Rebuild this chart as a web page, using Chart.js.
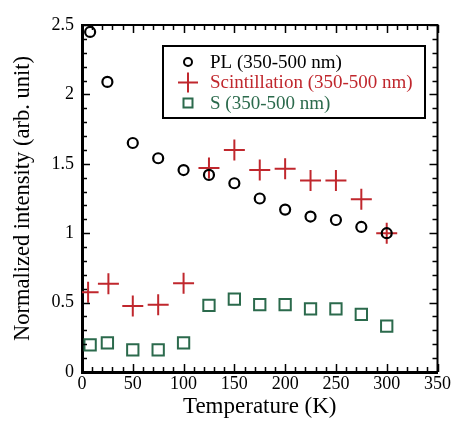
<!DOCTYPE html>
<html>
<head>
<meta charset="utf-8">
<script src="https://cdn.jsdelivr.net/npm/chart.js@4/dist/chart.umd.min.js"></script>
<style>
  html, body { margin: 0; padding: 0; background: #fff; }
  #wrap { width: 452px; height: 421px; }
</style>
</head>
<body>
<div id="wrap"><canvas id="chart" width="452" height="421"></canvas></div>
<script>
// temperatures (K)
const tempsPL = [8, 25, 50, 75, 100, 125, 150, 175, 200, 225, 250, 275, 300];
const tempsScint = [6, 26, 50, 75, 100, 125, 150, 175, 200, 225, 250, 275, 300];
const tempsS = [8, 25, 50, 75, 100, 125, 150, 175, 200, 225, 250, 275, 300];

const plValues = [2.45, 2.09, 1.65, 1.54, 1.455, 1.42, 1.36, 1.25, 1.17, 1.12, 1.095, 1.045, 1.0];
const scintValues = [0.575, 0.635, 0.475, 0.485, 0.64, 1.47, 1.60, 1.455, 1.465, 1.38, 1.38, 1.245, 1.0];
const sValues = [0.195, 0.21, 0.16, 0.16, 0.21, 0.48, 0.525, 0.485, 0.485, 0.455, 0.455, 0.415, 0.33];

const seriesLabels = ['PL (350-500 nm)', 'Scintillation (350-500 nm)', 'S (350-500 nm)'];
const xTitle = 'Temperature (K)';
const yTitle = 'Normalized intensity (arb. unit)';

const RED = '#c0272d';
const GREEN = '#2b6a4c';
const FONT = '"Liberation Serif", "Times New Roman", serif';

const toPoints = (xs, ys) => xs.map((x, i) => ({ x: x, y: ys[i] }));

// inward ticks on all four sides + top/right frame
const frameTicks = {
    id: 'frameTicks',
    afterDatasetsDraw(chart) {
        const { ctx, chartArea: a, scales } = chart;
        const xs = scales.x, ys = scales.y;
        ctx.save();
        ctx.strokeStyle = '#000';
        ctx.lineWidth = 2;
        ctx.beginPath();
        ctx.moveTo(a.left, a.top);
        ctx.lineTo(a.right, a.top);
        ctx.lineTo(a.right, a.bottom);
        ctx.stroke();

        ctx.lineWidth = 1.5;
        ctx.beginPath();
        for (let v = 0; v <= 350; v += 10) {
            const px = Math.round(xs.getPixelForValue(v)) + 0.5;
            const len = v % 50 === 0 ? 8 : 5;
            ctx.moveTo(px, a.bottom);
            ctx.lineTo(px, a.bottom - len);
            ctx.moveTo(px, a.top);
            ctx.lineTo(px, a.top + len);
        }
        for (let i = 0; i <= 25; i++) {
            const v = i / 10;
            const py = Math.round(ys.getPixelForValue(v)) + 0.5;
            const len = i % 5 === 0 ? 8 : 5;
            ctx.moveTo(a.left, py);
            ctx.lineTo(a.left + len, py);
            ctx.moveTo(a.right, py);
            ctx.lineTo(a.right - len, py);
        }
        ctx.stroke();
        ctx.restore();
    }
};

// boxed legend inside the plot
const boxLegend = {
    id: 'boxLegend',
    afterDraw(chart) {
        const { ctx, chartArea: a } = chart;
        const left = a.left + 81, top = a.top + 21, w = 262, h = 72;
        ctx.save();
        ctx.fillStyle = '#fff';
        ctx.fillRect(left, top, w, h);
        ctx.strokeStyle = '#000';
        ctx.lineWidth = 2;
        ctx.strokeRect(left, top, w, h);

        ctx.font = '19px ' + FONT;
        ctx.textBaseline = 'middle';
        chart.data.datasets.forEach((ds, i) => {
            const cy = top + 16 + i * 20.5;
            const cx = left + 25;
            ctx.strokeStyle = ds.borderColor;
            ctx.lineWidth = 2;
            ctx.beginPath();
            if (ds.pointStyle === 'circle') {
                ctx.arc(cx, cy, 4, 0, Math.PI * 2);
            } else if (ds.pointStyle === 'cross') {
                ctx.moveTo(cx - 10, cy); ctx.lineTo(cx + 10, cy);
                ctx.moveTo(cx, cy - 10); ctx.lineTo(cx, cy + 10);
            } else {
                ctx.rect(cx - 4.5, cy - 4.5, 9, 9);
            }
            ctx.stroke();
            ctx.fillStyle = ds.borderColor;
            ctx.fillText(ds.label, left + 47, cy + 1);
        });
        ctx.restore();
    }
};

new Chart(document.getElementById('chart'), {
    type: 'scatter',
    data: {
        datasets: [
            {
                label: seriesLabels[0],
                data: toPoints(tempsPL, plValues),
                pointStyle: 'circle',
                pointRadius: 5,
                pointBorderWidth: 2.2,
                borderColor: '#000',
                backgroundColor: 'rgba(0,0,0,0)'
            },
            {
                label: seriesLabels[1],
                data: toPoints(tempsScint, scintValues),
                pointStyle: 'cross',
                pointRadius: 10.5,
                pointBorderWidth: 2,
                borderColor: RED,
                backgroundColor: RED
            },
            {
                label: seriesLabels[2],
                data: toPoints(tempsS, sValues),
                pointStyle: 'rect',
                pointRadius: 8,
                pointBorderWidth: 2,
                borderColor: GREEN,
                backgroundColor: 'rgba(0,0,0,0)'
            }
        ]
    },
    options: {
        responsive: false,
        animation: false,
        layout: { padding: { top: 25, right: 14, left: 0, bottom: 0 } },
        plugins: {
            legend: { display: false },
            tooltip: { enabled: false }
        },
        scales: {
            x: {
                type: 'linear',
                min: 0,
                max: 350,
                afterFit: (s) => { s.height = 49; },
                ticks: { stepSize: 50, color: '#000', font: { family: FONT, size: 18 }, padding: 1, maxRotation: 0 },
                grid: { display: false, drawTicks: false },
                border: { color: '#000', width: 3 },
                title: { display: true, text: xTitle, color: '#000', font: { family: FONT, size: 23 }, padding: { top: 4, bottom: 0 } }
            },
            y: {
                type: 'linear',
                min: 0,
                max: 2.5,
                afterFit: (s) => { s.width = 82; },
                ticks: {
                    stepSize: 0.5, color: '#000', font: { family: FONT, size: 18 }, padding: 8,
                    callback: (v) => String(Number(v))
                },
                grid: { display: false, drawTicks: false },
                border: { color: '#000', width: 3 },
                title: { display: true, text: yTitle, color: '#000', font: { family: FONT, size: 22.5 }, padding: { top: 10, bottom: 0 } }
            }
        }
    },
    plugins: [frameTicks, boxLegend]
});
</script>
</body>
</html>
